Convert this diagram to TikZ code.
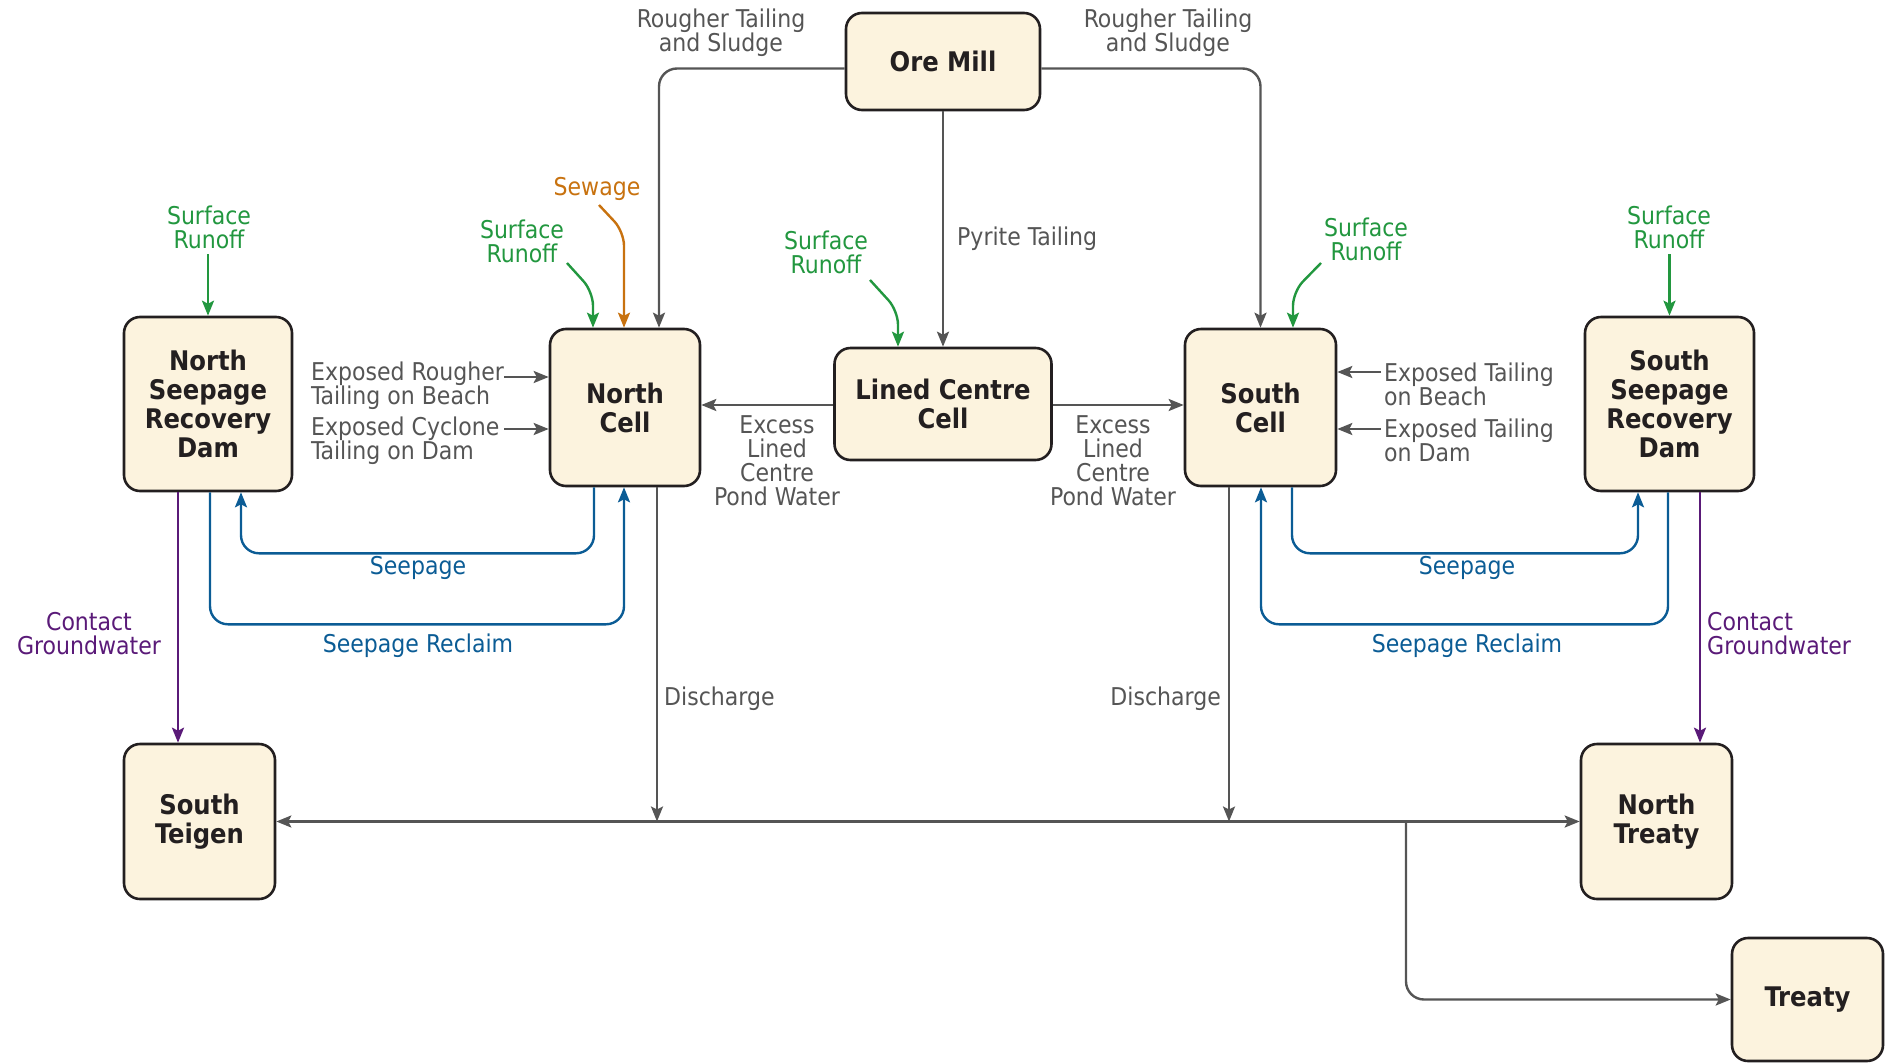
\documentclass[tikz,border=0pt]{standalone}
\usepackage{fontspec}
\setmainfont{DejaVu Sans Condensed}
\usetikzlibrary{arrows.meta,calc}
\definecolor{boxfill}{HTML}{FCF3DE}
\definecolor{boxline}{HTML}{231F20}
\definecolor{flowgray}{HTML}{555555}
\definecolor{flowgreen}{HTML}{22973F}
\definecolor{floworange}{HTML}{C8720F}
\definecolor{flowblue}{HTML}{0B5C95}
\definecolor{flowpurple}{HTML}{5A1A78}
\begin{document}
\begin{tikzpicture}[x=1pt,y=-1pt,
  unitbox/.style={draw=boxline, fill=boxfill, line width=2.6pt, rounded corners=16pt,
    inner sep=0pt, align=center, text=boxline, font=\fontsize{27}{29}\selectfont\bfseries},
  flow/.style={line width=2.4pt, rounded corners=18pt, -{Stealth[length=15pt,width=12pt,inset=3pt]}},
  gflow/.style={flow, draw=flowgray},
  grflow/.style={flow, draw=flowgreen},
  orflow/.style={flow, draw=floworange},
  blflow/.style={flow, draw=flowblue},
  puflow/.style={flow, draw=flowpurple},
  lab/.style={inner sep=0pt, align=center, font=\fontsize{24.5}{24}\selectfont},
  glab/.style={lab, text=flowgray},
  grlab/.style={lab, text=flowgreen},
  orlab/.style={lab, text=floworange},
  bllab/.style={lab, text=flowblue},
  pulab/.style={lab, text=flowpurple},
]
\useasboundingbox (0,0) rectangle (1890,1063);

% ---------- units ----------
\node[unitbox, minimum width=194pt, minimum height=97pt]  (ore)     at (943,61.5)    {Ore Mill};
\node[unitbox, minimum width=168pt, minimum height=174pt] (nsrd)    at (208,404)     {North\\Seepage\\Recovery\\Dam};
\node[unitbox, minimum width=150pt, minimum height=157pt] (ncell)   at (625,407.5)   {North\\Cell};
\node[unitbox, minimum width=217pt, minimum height=112pt] (lcc)     at (943,404)     {Lined Centre\\Cell};
\node[unitbox, minimum width=151pt, minimum height=157pt] (scell)   at (1260.5,407.5){South\\Cell};
\node[unitbox, minimum width=169pt, minimum height=174pt] (ssrd)    at (1669.5,404)  {South\\Seepage\\Recovery\\Dam};
\node[unitbox, minimum width=151pt, minimum height=155pt] (steigen) at (199.5,821.5) {South\\Teigen};
\node[unitbox, minimum width=151pt, minimum height=155pt] (ntreaty) at (1656.5,821.5){North\\Treaty};
\node[unitbox, minimum width=151pt, minimum height=123pt] (treaty)  at (1807.5,999.5){Treaty};

% ---------- free ends and offsets ----------
\coordinate (rnNS) at (208,254);
\coordinate (rnNC) at (567,263);
\coordinate (swNC) at (599,205);
\coordinate (rnLC) at (870,280);
\coordinate (rnSC) at (1321,263);
\coordinate (rnSS) at (1669.5,254);
\coordinate (exA) at (504,377);
\coordinate (exB) at (504,429);
\coordinate (exC) at (1381,372);
\coordinate (exD) at (1381,429);
\coordinate (branch) at (1406,821.5);
\coordinate (lccW) at ($(lcc.west)+(0,1)$);
\coordinate (lccE) at ($(lcc.east)+(0,1)$);
\coordinate (cgN) at ($(nsrd.south)+(-30,0)$);
\coordinate (cgS) at ($(ssrd.south)+(30.5,0)$);
\coordinate (dsN) at ($(ncell.south)+(32,0)$);
\coordinate (dsS) at ($(scell.south)+(-31.5,0)$);

% ---------- ore mill feeds ----------
\draw[gflow] ($(ore.west)+(0,7)$) -| ($(ncell.north)+(34,0)$);
\draw[gflow] ($(ore.east)+(0,7)$) -| (scell.north);
\draw[gflow] (ore.south) -- (lcc.north)
  node[glab, pos=0.54, anchor=west, xshift=13pt] (pyr) {Pyrite Tailing};
\node[glab] (rtl) at (721,33) {Rougher Tailing\\and Sludge};
\node[glab] (rtr) at (1168,33) {Rougher Tailing\\and Sludge};

% ---------- surface runoff / sewage ----------
\node[grlab] (lrnNS) at (209,227) {Surface\\Runoff};
\draw[grflow] (rnNS) -- (nsrd.north);
\node[grlab] (lrnNC) at (522,241) {Surface\\Runoff};
\draw[grflow, rounded corners=14pt] (rnNC) -- ($(ncell.north)+(-32,-36)$) -- ($(ncell.north)+(-32,0)$);
\node[orlab] (lsw) at (597,189) {Sewage};
\draw[orflow, rounded corners=14pt] (swNC) -- ($(ncell.north)+(-1,-96)$) -- ($(ncell.north)+(-1,0)$);
\node[grlab] (lrnLC) at (826,252) {Surface\\Runoff};
\draw[grflow, rounded corners=14pt] (rnLC) -- ($(lcc.north)+(-45,-36)$) -- ($(lcc.north)+(-45,0)$);
\node[grlab] (lrnSC) at (1366,239) {Surface\\Runoff};
\draw[grflow, rounded corners=14pt] (rnSC) -- ($(scell.north)+(32.5,-36)$) -- ($(scell.north)+(32.5,0)$);
\node[grlab] (lrnSS) at (1669,227) {Surface\\Runoff};
\draw[grflow] (rnSS) -- (ssrd.north);

% ---------- exposed tailings ----------
\node[glab, align=left, anchor=west] (lexA) at (311,386) {Exposed Rougher\\Tailing on Beach};
\node[glab, align=left, anchor=west] (lexB) at (311,441) {Exposed Cyclone\\Tailing on Dam};
\draw[gflow] (exA) -- (exA -| ncell.west);
\draw[gflow] (exB) -- (exB -| ncell.west);
\node[glab, align=left, anchor=west] (lexC) at (1384,384) {Exposed Tailing\\on Beach};
\node[glab, align=left, anchor=west] (lexD) at (1384,440) {Exposed Tailing\\on Dam};
\draw[gflow] (exC) -- (exC -| scell.east);
\draw[gflow] (exD) -- (exD -| scell.east);

% ---------- excess pond water ----------
\draw[gflow] (lccW) -- (lccW -| ncell.east);
\draw[gflow] (lccE) -- (lccE -| scell.west);
\node[glab] (lexl) at (777,461) {Excess\\Lined\\Centre\\Pond Water};
\node[glab] (lexr) at (1113,461) {Excess\\Lined\\Centre\\Pond Water};

% ---------- seepage loops ----------
\draw[blflow] ($(ncell.south)+(-31,0)$) -- ++(0,66) -| ($(nsrd.south)+(33,0)$);
\draw[blflow] ($(nsrd.south)+(2,0)$) -- ++(0,132) -| ($(ncell.south)+(-1,0)$);
\node[bllab] (lspN) at (418,568) {Seepage};
\node[bllab] (lsrN) at (418,646) {Seepage Reclaim};
\draw[blflow] ($(scell.south)+(31.5,0)$) -- ++(0,66) -| ($(ssrd.south)+(-31.5,0)$);
\draw[blflow] ($(ssrd.south)+(-1.5,0)$) -- ++(0,132) -| ($(scell.south)+(0.5,0)$);
\node[bllab] (lspS) at (1467,568) {Seepage};
\node[bllab] (lsrS) at (1467,646) {Seepage Reclaim};

% ---------- contact groundwater ----------
\draw[puflow] (cgN) -- (cgN |- steigen.north);
\node[pulab] (lcgN) at (89,634) {Contact\\Groundwater};
\draw[puflow] (cgS) -- (cgS |- ntreaty.north);
\node[pulab, align=left, anchor=west] (lcgS) at (1707,634) {Contact\\Groundwater};

% ---------- discharge ----------
\draw[gflow] (dsN) -- (dsN |- steigen.east);
\draw[gflow] (dsS) -- (dsS |- steigen.east);
\node[glab, anchor=west] (ldN) at (664,699) {Discharge};
\node[glab, anchor=east] (ldS) at (1221,699) {Discharge};
\draw[gflow] (branch) -- (steigen.east);
\draw[gflow] (branch) -- (ntreaty.west);
\draw[gflow] (branch) |- (treaty.west);
\end{tikzpicture}
\end{document}
